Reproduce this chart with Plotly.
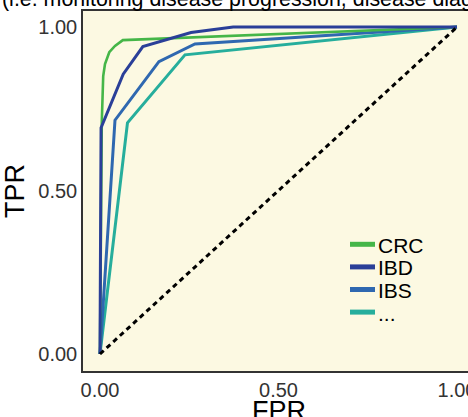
import plotly.graph_objects as go

# ---- data ----
series_names = ["CRC", "IBD", "IBS", "..."]
series_colors = ["#45B648", "#2A3F98", "#2F68B0", "#26AE9C"]

crc_fpr = [0.0, 0.003, 0.005, 0.009, 0.014, 0.026, 0.042, 0.064, 1.0]
crc_tpr = [0.0, 0.60, 0.709, 0.850, 0.887, 0.923, 0.942, 0.960, 1.0]

ibd_fpr = [0.0, 0.003, 0.065, 0.120, 0.255, 0.373, 1.0]
ibd_tpr = [0.0, 0.692, 0.856, 0.940, 0.983, 1.0, 1.0]

ibs_fpr = [0.0, 0.042, 0.165, 0.266, 1.0]
ibs_tpr = [0.0, 0.715, 0.894, 0.948, 1.0]

oth_fpr = [0.0, 0.077, 0.238, 1.0]
oth_tpr = [0.0, 0.707, 0.915, 1.0]

diag = [0.0, 1.0]

x_ticks = [0.0, 0.5, 1.0]
x_tick_labels = ["0.00", "0.50", "1.00"]
y_ticks = [0.0, 0.5, 1.0]
y_tick_labels = ["0.00", "0.50", "1.00"]

x_title = "FPR"
y_title = "TPR"
title_text = "(i.e. monitoring disease progression, disease diagnosis)"

FONT = "Liberation Sans, Arial, sans-serif"

W, H = 468, 417
ML, MR, MT, MB = 83, 0, 11, 46
PW, PH = W - ML - MR, H - MT - MB


def px_x(p):
    return (p - ML) / PW


def px_y(p):
    return (H - MB - p) / PH


fig = go.Figure()
curves = [(crc_fpr, crc_tpr), (ibd_fpr, ibd_tpr), (ibs_fpr, ibs_tpr), (oth_fpr, oth_tpr)]
draw_order = [3, 2, 0, 1]
for i in draw_order:
    xs, ys = curves[i]
    fig.add_trace(go.Scatter(
        x=xs, y=ys, mode="lines", name=series_names[i],
        line=dict(color=series_colors[i], width=3 if i != 0 else 2.6),
        showlegend=False,
    ))

fig.add_trace(go.Scatter(
    x=diag, y=diag, mode="lines", showlegend=False,
    line=dict(color="black", width=3, dash="5px,4px"),
))

# manual legend (key lines + labels)
shapes = []
annotations = []
leg_y0 = 244.3
leg_dy = 22.6
for k, name in enumerate(series_names):
    yp = leg_y0 + k * leg_dy
    shapes.append(dict(type="line", xref="paper", yref="paper",
                       x0=px_x(350), x1=px_x(375), y0=px_y(yp), y1=px_y(yp),
                       line=dict(color=series_colors[k], width=5)))
    annotations.append(dict(xref="paper", yref="paper",
                            x=px_x(376), y=px_y(yp + 1),
                            xanchor="left", yanchor="middle", showarrow=False,
                            text=name, font=dict(family=FONT, size=21, color="black")))

annotations.append(dict(xref="paper", yref="paper", x=px_x(0), y=px_y(13),
                        xanchor="left", yanchor="bottom", showarrow=False,
                        text=title_text, font=dict(family=FONT, size=21.4, color="black")))

# x-axis title, placed low so it is partly cut like the reference
annotations.append(dict(xref="paper", yref="paper", x=px_x(279), y=px_y(394),
                        xanchor="center", yanchor="top", showarrow=False,
                        text=x_title, font=dict(family=FONT, size=27, color="black")))

fig.update_layout(
    width=W, height=H,
    margin=dict(l=ML, r=MR, t=MT, b=MB),
    paper_bgcolor="white",
    plot_bgcolor="#FCF9E2",
    shapes=shapes,
    annotations=annotations,
    font=dict(family=FONT, color="#333333"),
)
fig.update_xaxes(
    range=[-0.0476, 1.0308], showgrid=False, zeroline=False, automargin=False,
    showline=True, linecolor="#333333", linewidth=1.5, mirror=True,
    tickmode="array", tickvals=x_ticks, ticktext=x_tick_labels,
    tickfont=dict(family=FONT, size=20, color="#333333"), ticks="", ticklen=0,
    ticklabeloverflow="allow",
)
fig.update_yaxes(
    range=[-0.052, 1.049], showgrid=False, zeroline=False, automargin=False,
    showline=True, linecolor="#333333", linewidth=1.5,
    tickmode="array", tickvals=y_ticks, ticktext=y_tick_labels,
    tickfont=dict(family=FONT, size=20, color="#333333"), ticks="", ticklen=0,
    ticklabeloverflow="allow",
    title=dict(text=y_title, font=dict(family=FONT, size=27, color="black")),
)

fig.write_html(
    "out.html",
    config={"displayModeBar": False},
    post_script="document.body.style.margin='0';document.body.style.overflow='hidden';",
)
